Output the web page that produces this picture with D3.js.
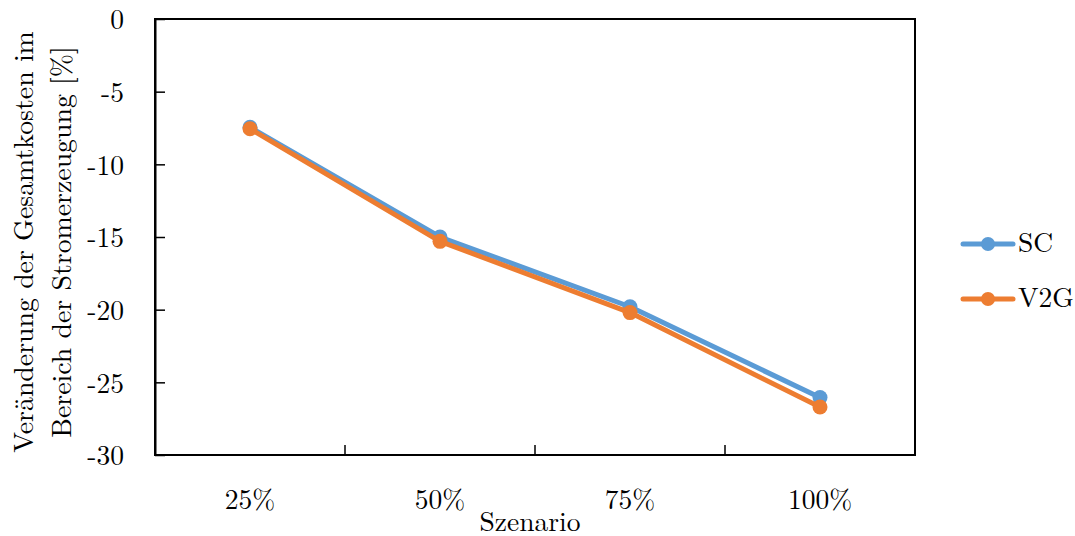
<!DOCTYPE html>
<html><head><meta charset="utf-8">
<script src="https://cdn.jsdelivr.net/npm/d3@7/dist/d3.min.js"></script>
<style>
html,body{margin:0;padding:0;background:#fff;}
</style></head>
<body><svg id="chart" width="1075" height="536"></svg>
<script>
const categories = ["25%", "50%", "75%", "100%"];
const seriesNames = ["SC", "V2G"];
const scValues = [-7.45, -15.0, -19.8, -26.05];
const v2gValues = [-7.55, -15.3, -20.2, -26.7];
const yTicks = [0, -5, -10, -15, -20, -25, -30];
const colors = ["#5B9BD5", "#ED7D31"];
const yLabelLines = ["Veränderung der Gesamtkosten im", "Bereich der Stromerzeugung [%]"];
const xTitle = "Szenario";

const svg = d3.select("#chart");
const L = 155, R = 915, T = 19, B = 455;
const fs = 27.5;
const FF = "'Latin Modern Roman','Liberation Serif',serif";

const x = d3.scaleBand().domain(categories).range([L, R]).padding(0);
const y = d3.scaleLinear().domain([-30, 0]).range([B, T]);
const cx = c => x(c) + x.bandwidth() / 2;

svg.append("rect").attr("x", L).attr("y", T).attr("width", R - L).attr("height", B - T)
  .attr("fill", "none").attr("stroke", "#000").attr("stroke-width", 2);

const ya = svg.append("g").attr("transform", `translate(${L},0)`)
  .call(d3.axisLeft(y).tickValues(yTicks).tickFormat(d => String(d))
    .tickSizeInner(-10).tickSizeOuter(0).tickPadding(31));
ya.select(".domain").attr("stroke-width", 2);
ya.selectAll(".tick line").attr("stroke-width", 1.5);
ya.selectAll(".tick text").style("font-size", fs + "px").style("font-family", FF).attr("fill", "#000").attr("dy", "0.36em");

const xa = svg.append("g").attr("transform", `translate(0,${B})`)
  .call(d3.axisBottom(x).tickSize(0).tickPadding(34).tickSizeOuter(0));
xa.select(".domain").remove();
xa.selectAll(".tick text").style("font-size", fs + "px").style("font-family", FF).attr("fill", "#000");
svg.append("g").selectAll("line").data(categories.slice(1)).join("line")
  .attr("x1", d => x(d)).attr("x2", d => x(d))
  .attr("y1", B).attr("y2", B - 10)
  .attr("stroke", "#000").attr("stroke-width", 1.5);

const series = [scValues, v2gValues];
const line = d3.line().x((d, i) => cx(categories[i])).y(d => y(d));
series.forEach((vals, si) => {
  const g = svg.append("g");
  g.append("path").datum(vals).attr("d", line).attr("fill", "none")
    .attr("stroke", colors[si]).attr("stroke-width", 5)
    .attr("stroke-linejoin", "round").attr("stroke-linecap", "round");
  g.selectAll("circle").data(vals).join("circle")
    .attr("cx", (d, i) => cx(categories[i])).attr("cy", d => y(d))
    .attr("r", 7.5).attr("fill", colors[si]);
});

const legY = [244, 299];
seriesNames.forEach((n, i) => {
  const g = svg.append("g");
  g.append("line").attr("x1", 963).attr("x2", 1013).attr("y1", legY[i]).attr("y2", legY[i])
    .attr("stroke", colors[i]).attr("stroke-width", 5).attr("stroke-linecap", "round");
  g.append("circle").attr("cx", 988).attr("cy", legY[i]).attr("r", 7).attr("fill", colors[i]);
  g.append("text").attr("x", 1018).attr("y", legY[i] + 8).style("font-size", fs + "px").style("font-family", FF).text(n);
});

const yt = svg.append("text").attr("transform", `translate(33,242) rotate(-90)`)
  .attr("text-anchor", "middle").style("font-size", "27.8px").style("font-family", FF);
yt.append("tspan").attr("x", 0).attr("y", 0).text(yLabelLines[0]);
yt.append("tspan").attr("x", 0).attr("y", 38).text(yLabelLines[1]);

svg.append("text").attr("x", 530).attr("y", 531).attr("text-anchor", "middle")
  .style("font-size", fs + "px").style("font-family", FF).text(xTitle);
</script></body></html>
